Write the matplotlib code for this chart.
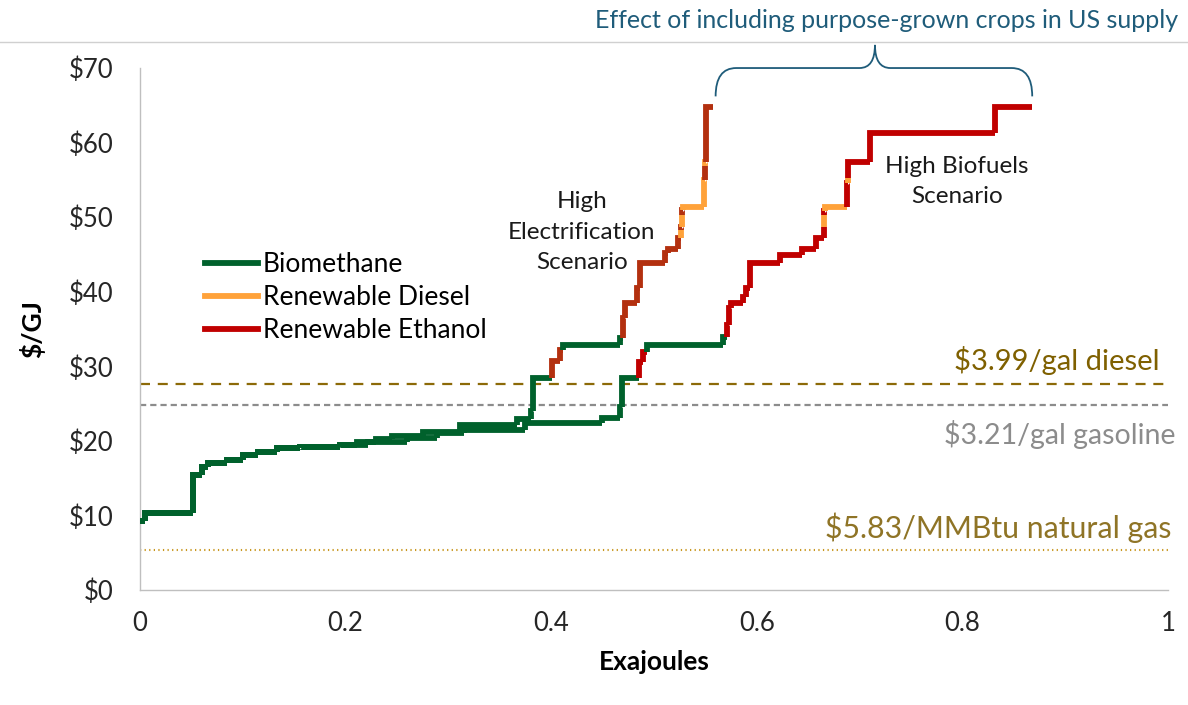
import matplotlib
matplotlib.use("Agg")
import matplotlib.pyplot as plt
from matplotlib.path import Path
from matplotlib.patches import PathPatch

plt.rcParams['font.family'] = ['Lato', 'DejaVu Sans']

# ---------------- data ----------------
# Supply-curve blocks: cumulative exajoules at the end of each block, price ($/GJ), fuel type
# G = biomethane, D = renewable diesel, E = renewable ethanol
he_x = [0.005, 0.052, 0.060, 0.066, 0.085, 0.100, 0.115, 0.133, 0.156, 0.195,
        0.211, 0.230, 0.245, 0.275, 0.311, 0.367, 0.380, 0.382, 0.401, 0.409,
        0.412, 0.467, 0.470, 0.472, 0.484, 0.486, 0.511, 0.514, 0.523, 0.526,
        0.5265, 0.527, 0.5275, 0.528, 0.549, 0.5495, 0.550, 0.5505, 0.557]
he_price = [9.3, 10.3, 15.4, 16.5, 17.0, 17.4, 18.1, 18.5, 19.0, 19.2,
            19.5, 19.8, 20.2, 20.6, 21.2, 22.2, 23.0, 24.0, 28.4, 30.7,
            32.2, 32.8, 33.8, 36.5, 38.5, 40.5, 43.8, 45.2, 45.8, 47.2,
            48.3, 48.7, 50.3, 50.9, 51.4, 55.0, 56.8, 57.4, 64.8]
he_type = ['G'] * 19 + ['E', 'E', 'G', 'G'] + ['E'] * 7 + ['D', 'E', 'D', 'E', 'D', 'D', 'E', 'D', 'E']

hb_x = [0.005, 0.052, 0.060, 0.066, 0.085, 0.100, 0.115, 0.133, 0.156, 0.195,
        0.222, 0.260, 0.289, 0.315, 0.375, 0.449, 0.467, 0.469, 0.485, 0.489,
        0.493, 0.567, 0.571, 0.573, 0.575, 0.587, 0.590, 0.593, 0.623, 0.644,
        0.658, 0.665, 0.6652, 0.6655, 0.666, 0.688, 0.6885, 0.689, 0.710, 0.832,
        0.868]
hb_price = [9.3, 10.3, 15.4, 16.5, 17.0, 17.4, 18.1, 18.5, 19.0, 19.2,
            19.5, 19.8, 20.4, 21.0, 21.4, 22.4, 23.1, 24.5, 28.4, 30.6,
            31.9, 32.8, 33.9, 35.5, 37.8, 38.5, 39.3, 40.5, 43.8, 44.9,
            45.7, 47.2, 48.7, 50.3, 50.8, 51.4, 54.6, 55.2, 57.4, 61.3,
            64.8]
hb_type = ['G'] * 19 + ['E', 'E', 'G', 'G'] + ['E'] * 10 + ['D', 'E', 'D', 'E', 'D', 'E', 'E', 'E']

legend_labels = ['Biomethane', 'Renewable Diesel', 'Renewable Ethanol']

ref_prices = [27.6, 24.8, 5.4]
ref_labels = ['$3.99/gal diesel', '$3.21/gal gasoline', '$5.83/MMBtu natural gas']

y_ticks = [0, 10, 20, 30, 40, 50, 60, 70]
x_ticks = [0, 0.2, 0.4, 0.6, 0.8, 1.0]
x_tick_labels = ['0', '0.2', '0.4', '0.6', '0.8', '1']

# ---------------- style ----------------
GREEN = '#00612C'
ORANGE = '#FFA23A'
RED_HB = '#C00000'
RED_HE = '#B3300F'
LW = 4.2

fig = plt.figure(figsize=(11.88, 7.05), dpi=100)
ax = fig.add_axes([0.1178, 0.163, 0.8653, 0.7405])


def draw_curve(xs, ps, ts, red):
    cmap = {'G': GREEN, 'D': ORANGE, 'E': red}
    x0 = 0.0
    prev = ps[0]
    for x1, p, t in zip(xs, ps, ts):
        ax.plot([x0, x0, x1], [prev, p, p], color=cmap[t], lw=LW,
                solid_capstyle='butt', solid_joinstyle='miter', zorder=3)
        x0, prev = x1, p


draw_curve(hb_x, hb_price, hb_type, RED_HB)
draw_curve(he_x, he_price, he_type, RED_HE)

# reference lines
ax.axhline(ref_prices[0], color='#8C6A08', lw=1.6, ls=(0, (4.5, 3.5)), zorder=2)
ax.axhline(ref_prices[1], color='#8C8C8C', lw=1.6, ls=(0, (2.8, 1.8)), zorder=2)
ax.axhline(ref_prices[2], color='#C8961E', lw=1.5, ls=(0, (0.6, 1.6)), zorder=2)
ax.text(0.992, 30.8, ref_labels[0], ha='right', va='center', fontsize=21, color='#7F6000')
ax.text(1.007, 20.8, ref_labels[1], ha='right', va='center', fontsize=20.5, color='#8C8C8C')
ax.text(1.003, 8.3, ref_labels[2], ha='right', va='center', fontsize=21.8, color='#8F7426')

ax.set_xlim(0, 1)
ax.set_ylim(0, 70)
ax.set_yticks(y_ticks)
ax.set_yticklabels([f'${v}' for v in y_ticks])
ax.set_xticks(x_ticks)
ax.set_xticklabels(x_tick_labels)
ax.tick_params(length=0, labelsize=18.5, colors='#262626')
ax.tick_params(axis='x', pad=15)
ax.tick_params(axis='y', pad=19)
for s in ['top', 'right']:
    ax.spines[s].set_visible(False)
for s in ['left', 'bottom']:
    ax.spines[s].set_color('#BFBFBF')
    ax.spines[s].set_linewidth(1.0)

ax.set_ylabel('$/GJ', fontsize=19, fontweight='bold', labelpad=17)
ax.set_xlabel('Exajoules', fontsize=19, fontweight='bold', labelpad=10)

# legend
handles = [plt.Line2D([], [], color=c, lw=LW) for c in (GREEN, ORANGE, RED_HB)]
ax.legend(handles, legend_labels, loc='upper left', bbox_to_anchor=(0.053, 0.668),
          frameon=False, fontsize=19, handlelength=2.0, handletextpad=0.2,
          labelspacing=0.3, borderaxespad=0)

# scenario labels
ax.text(0.43, 48.0, 'High\nElectrification\nScenario', ha='center', va='center',
        fontsize=17.5, color='#1A1A1A', linespacing=1.55)
ax.text(0.795, 54.8, 'High Biofuels\nScenario', ha='center', va='center',
        fontsize=17.5, color='#1A1A1A', linespacing=1.55)

# brace
bx0, bx1, bxm = 0.560, 0.868, 0.715
yb, yh, yt = 66.2, 70.0, 73.1
verts = [(bx0, yb), (bx0, yh), (bx0 + 0.02, yh),
         (bxm - 0.015, yh), (bxm, yh), (bxm, yt),
         (bxm, yh), (bxm + 0.015, yh),
         (bx1 - 0.02, yh), (bx1, yh), (bx1, yb)]
codes = [Path.MOVETO, Path.CURVE3, Path.CURVE3,
         Path.LINETO, Path.CURVE3, Path.CURVE3,
         Path.CURVE3, Path.CURVE3,
         Path.LINETO, Path.CURVE3, Path.CURVE3]
ax.add_patch(PathPatch(Path(verts, codes), facecolor='none', edgecolor='#1F5C7A',
                       lw=1.3, clip_on=False))

# top rule and title annotation
fig.add_artist(plt.Line2D([0.0, 1.0], [1 - 42 / 705, 1 - 42 / 705], color='#D0D0D0', lw=1.0))
fig.text(887 / 1188, 1 - 21 / 705, 'Effect of including purpose-grown crops in US supply',
         ha='center', va='center', fontsize=18, color='#1F5C7A')

fig.savefig('out.png', dpi=100)
